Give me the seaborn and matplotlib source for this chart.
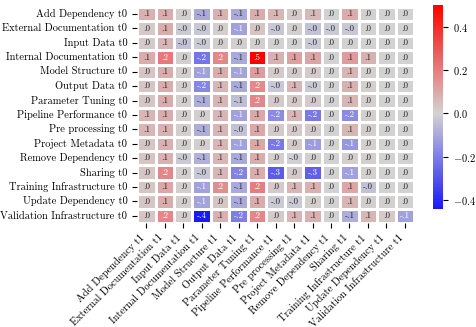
import numpy as np
import pandas as pd
import matplotlib
matplotlib.use("Agg")
import matplotlib.pyplot as plt
import seaborn as sns
from matplotlib.colors import LinearSegmentedColormap

plt.rcParams['font.family'] = 'serif'
plt.rcParams['font.serif'] = ['cmr10', 'DejaVu Serif']
plt.rcParams['mathtext.fontset'] = 'cm'
plt.rcParams['axes.formatter.use_mathtext'] = True

categories = ["Add Dependency", "External Documentation", "Input Data",
              "Internal Documentation", "Model Structure", "Output Data",
              "Parameter Tuning", "Pipeline Performance", "Pre processing",
              "Project Metadata", "Remove Dependency", "Sharing",
              "Training Infrastructure", "Update Dependency",
              "Validation Infrastructure"]
row_labels = [c + " t0" for c in categories]
col_labels = [c + " t1" for c in categories]

# one list per t0 row, columns in the same order as categories (t1)
add_dependency = [0.08, 0.09, 0.01, -0.10, 0.08, -0.10, 0.09, 0.07, 0.02, 0.06, 0.00, 0.09, 0.01, 0.00, 0.00]
external_documentation = [0.02, 0.09, -0.02, -0.03, 0.01, -0.12, 0.03, -0.03, 0.01, -0.04, -0.02, -0.03, 0.00, 0.00, 0.00]
input_data = [0.02, 0.07, -0.04, -0.02, 0.01, 0.01, 0.01, 0.00, 0.00, -0.02, 0.00, 0.00, 0.00, 0.00, 0.00]
internal_documentation = [0.09, 0.21, 0.01, -0.22, 0.18, -0.10, 0.50, 0.08, 0.12, 0.11, 0.00, 0.13, 0.08, 0.00, 0.00]
model_structure = [0.03, 0.09, 0.01, -0.12, 0.09, -0.11, 0.13, 0.02, 0.02, 0.02, 0.00, 0.07, 0.01, 0.00, 0.00]
output_data = [0.03, 0.09, 0.01, -0.18, 0.07, -0.10, 0.17, -0.03, 0.07, -0.02, 0.00, 0.08, 0.01, 0.00, 0.00]
parameter_tuning = [0.03, 0.09, 0.01, -0.09, 0.07, -0.05, 0.18, 0.02, 0.02, 0.02, 0.00, 0.07, 0.01, 0.00, 0.00]
pipeline_performance = [0.07, 0.09, 0.01, 0.01, 0.07, -0.12, 0.10, -0.17, 0.07, -0.21, 0.00, -0.17, 0.01, 0.00, 0.00]
pre_processing = [0.07, 0.08, 0.01, -0.09, 0.07, -0.04, 0.10, 0.02, 0.02, 0.02, 0.00, 0.07, 0.01, 0.00, 0.00]
project_metadata = [0.03, 0.08, 0.01, 0.01, 0.07, -0.12, 0.10, -0.21, 0.02, -0.13, 0.00, -0.14, 0.01, 0.00, 0.00]
remove_dependency = [0.03, 0.08, -0.02, -0.08, 0.07, -0.10, 0.09, 0.01, -0.01, 0.01, 0.00, 0.01, 0.01, 0.00, 0.00]
sharing = [0.03, 0.18, 0.01, -0.03, 0.07, -0.19, 0.09, -0.28, 0.02, -0.27, 0.00, -0.12, 0.01, 0.00, 0.00]
training_infrastructure = [0.03, 0.10, 0.01, -0.12, 0.16, -0.10, 0.20, 0.02, 0.07, 0.08, 0.00, 0.10, -0.04, 0.00, 0.00]
update_dependency = [0.03, 0.09, 0.01, -0.11, 0.03, -0.10, 0.09, -0.02, -0.02, 0.01, 0.00, 0.07, 0.01, 0.01, 0.00]
validation_infrastructure = [0.03, 0.18, 0.01, -0.44, 0.08, -0.20, 0.18, 0.02, 0.07, 0.08, 0.00, -0.09, 0.07, 0.02, -0.12]

rows = [add_dependency, external_documentation, input_data, internal_documentation,
        model_structure, output_data, parameter_tuning, pipeline_performance,
        pre_processing, project_metadata, remove_dependency, sharing,
        training_infrastructure, update_dependency, validation_infrastructure]

df = pd.DataFrame(rows, index=row_labels, columns=col_labels)

# labels like ".1" / "-.0"
labels = df.map(lambda v: f"{v:.1f}".replace("0.", "."))

cmap = LinearSegmentedColormap.from_list("bgr", ["#0000ff", "#d3d3d3", "#ff0000"])

fig = plt.figure(figsize=(4.76, 3.27), dpi=100)
ax = fig.add_axes([0.288, 0.318, 0.582, 0.661])
cax = fig.add_axes([0.910, 0.361, 0.021, 0.624])

sns.heatmap(df, ax=ax, cbar_ax=cax, cmap=cmap, center=0,
            annot=labels, fmt="", annot_kws={"size": 6.5},
            linewidths=1, linecolor="white",
            xticklabels=True, yticklabels=True)

ax.set_xticklabels(ax.get_xticklabels(), rotation=45, ha="right", fontsize=7.5)
ax.set_yticklabels(ax.get_yticklabels(), rotation=0, fontsize=7.5)
cax.tick_params(labelsize=7.5)

fig.savefig("out.png", dpi=100)
